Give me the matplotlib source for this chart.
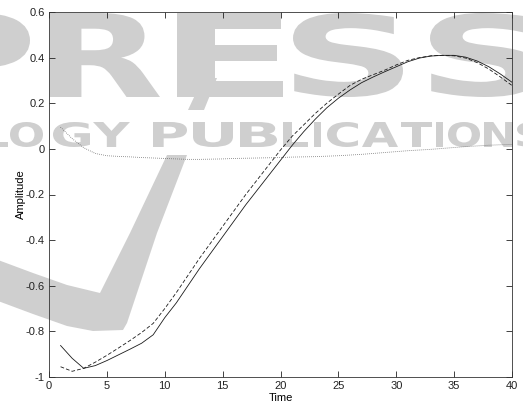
import numpy as np
import matplotlib
matplotlib.use("Agg")
import matplotlib.pyplot as plt
from matplotlib.textpath import TextPath
from matplotlib.patches import PathPatch, Polygon
from matplotlib.font_manager import FontProperties
from matplotlib.transforms import Affine2D

plt.rcParams['font.family'] = ['Liberation Sans', 'DejaVu Sans']
plt.rcParams['axes.unicode_minus'] = False

# ---- data -------------------------------------------------------------
time = list(range(1, 41))

signal_solid = [-0.862, -0.918, -0.962, -0.950, -0.928, -0.903, -0.878, -0.852,
                -0.815, -0.740, -0.675, -0.600, -0.525, -0.455, -0.385, -0.315,
                -0.245, -0.180, -0.115, -0.050, 0.015, 0.075, 0.130, 0.180,
                0.222, 0.258, 0.290, 0.315, 0.338, 0.360, 0.382, 0.398,
                0.407, 0.410, 0.410, 0.402, 0.385, 0.360, 0.328, 0.292]

signal_dashed = [-0.955, -0.975, -0.962, -0.935, -0.905, -0.873, -0.840, -0.805,
                 -0.765, -0.700, -0.630, -0.555, -0.480, -0.410, -0.340, -0.270,
                 -0.200, -0.135, -0.070, -0.005, 0.055, 0.105, 0.155, 0.200,
                 0.240, 0.278, 0.305, 0.325, 0.345, 0.368, 0.388, 0.400,
                 0.408, 0.410, 0.408, 0.398, 0.378, 0.350, 0.315, 0.278]

signal_dotted = [0.095, 0.045, 0.005, -0.020, -0.030, -0.033, -0.035, -0.038,
                 -0.040, -0.042, -0.044, -0.046, -0.046, -0.045, -0.044, -0.042,
                 -0.041, -0.040, -0.039, -0.038, -0.036, -0.035, -0.034, -0.032,
                 -0.030, -0.027, -0.024, -0.020, -0.016, -0.012, -0.008, -0.005,
                 -0.002, 0.002, 0.006, 0.010, 0.013, 0.016, 0.018, 0.019]

x_ticks = [0, 5, 10, 15, 20, 25, 30, 35, 40]
y_ticks = [-1, -0.8, -0.6, -0.4, -0.2, 0, 0.2, 0.4, 0.6]
y_tick_labels = ['-1', '-0.8', '-0.6', '-0.4', '-0.2', '0', '0.2', '0.4', '0.6']

# ---- figure -----------------------------------------------------------
W, H = 523, 408
fig = plt.figure(figsize=(W / 100, H / 100), dpi=100)
fig.patch.set_facecolor('white')

WM = '#cfcfcf'
wm_font = FontProperties(family='DejaVu Sans', weight='bold')


def px(x, y):
    return (x / W, 1 - y / H)


def glyph(ch, x0, x1, ytop, ybot):
    """Draw one stretched watermark glyph into a pixel box."""
    tp = TextPath((0, 0), ch, size=100, prop=wm_font)
    ext = tp.get_extents()
    fx0, fy1 = px(x0, ytop)
    fx1, fy0 = px(x1, ybot)
    tr = (Affine2D().translate(-ext.x0, -ext.y0)
          .scale((fx1 - fx0) / ext.width, (fy1 - fy0) / ext.height)
          .translate(fx0, fy0))
    patch = PathPatch(tr.transform_path(tp), facecolor=WM, edgecolor='none',
                      transform=fig.transFigure, zorder=-5)
    fig.add_artist(patch)


for ch, a, b in [('P', -77, 30), ('R', 50, 160), ('E', 177, 283),
                 ('S', 293, 403), ('S', 430, 540)]:
    glyph(ch, a, b, 13, 97)

for ch, a, b in [('L', -22, 8), ('O', 10, 43), ('G', 53, 90), ('Y', 93, 130),
                 ('P', 153, 187), ('U', 193, 233), ('B', 240, 277),
                 ('L', 283, 308), ('I', 314, 321), ('C', 327, 358),
                 ('A', 362, 398), ('T', 401, 432), ('I', 436, 443),
                 ('O', 448, 480), ('N', 484, 513), ('S', 517, 550)]:
    glyph(ch, a, b, 122, 147)

swoosh_top = [(188, 110), (204, 110), (217, 78), (203, 78)]
swoosh = [(167, 155), (187, 155), (157, 233), (127, 323), (123, 330),
          (93, 331), (67, 326), (33, 314), (-10, 298), (-10, 257),
          (33, 273), (67, 285), (100, 293), (130, 233)]
for pts in (swoosh_top, swoosh):
    fig.add_artist(Polygon([px(*p) for p in pts], closed=True,
                           facecolor=WM, edgecolor='none',
                           transform=fig.transFigure, zorder=-5))

# ---- axes -------------------------------------------------------------
ax = fig.add_axes([49 / W, 1 - 377 / H, (512 - 49) / W, (377 - 12) / H])
ax.set_facecolor('none')

line_kw = dict(color='#1a1a1a', linewidth=0.6)
ax.plot(time, signal_solid, linestyle='-', **line_kw)
ax.plot(time, signal_dashed, linestyle=(0, (4.5, 2.5)), **line_kw)
ax.plot(time, signal_dotted, linestyle=(0, (0.8, 1.6)), color='#555555',
        linewidth=0.6)

ax.set_xlim(0, 40)
ax.set_ylim(-1, 0.6)
ax.set_xticks(x_ticks)
ax.set_yticks(y_ticks)
ax.set_yticklabels(y_tick_labels)

ax.tick_params(direction='in', top=True, right=True, length=4, width=0.6,
               labelsize=8, pad=3, colors='#222222')
for s in ax.spines.values():
    s.set_linewidth(0.6)
    s.set_color('#333333')

ax.set_xlabel('Time', fontsize=8, labelpad=1)
ax.set_ylabel('Amplitude', fontsize=8, labelpad=0)

fig.savefig('out.png', dpi=100)
